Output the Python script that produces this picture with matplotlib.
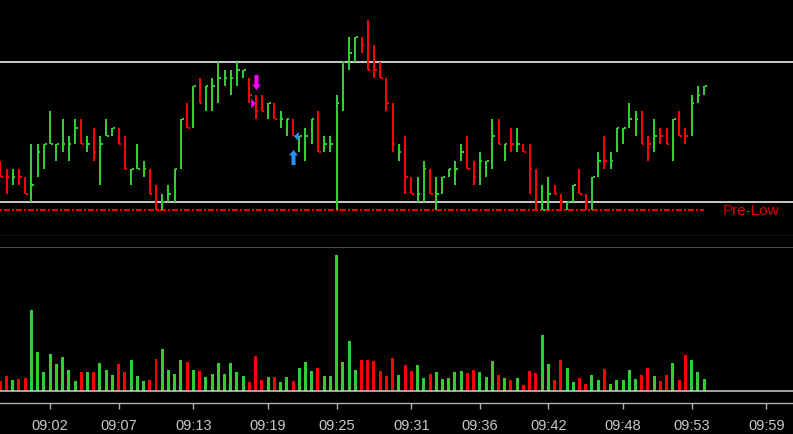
import matplotlib
matplotlib.use('Agg')
import matplotlib.pyplot as plt
from matplotlib.path import Path

# prices are in ticks above the previous day's low (Pre-Low = 0)
highs = [6, 5, 5, 5, 4, 8, 8, 8, 12, 8, 11, 9, 11, 11, 9, 10, 9, 11, 10, 10,
         9, 5, 8, 6, 5, 3, 2, 3, 5, 11, 13, 15, 16, 15, 16, 18, 17, 17, 18, 17,
         16, 14, 14, 13, 13, 12, 11, 11, 9, 10, 11, 12, 9, 9, 14, 18, 21, 21, 21, 23,
         20, 18, 16, 13, 8, 9, 4, 4, 6, 5, 4, 4, 5, 6, 8, 9, 6, 7, 6, 11,
         11, 8, 10, 10, 8, 8, 5, 3, 4, 3, 2, 1, 3, 5, 2, 4, 7, 9, 7, 10,
         10, 13, 12, 12, 9, 11, 10, 10, 11, 12, 10, 14, 15, 15]
lows = [4, 2, 3, 3, 2, 1, 4, 5, 8, 6, 7, 6, 8, 8, 7, 6, 3, 9, 9, 8,
        5, 3, 5, 4, 2, 0, 0, 1, 1, 5, 10, 10, 13, 12, 12, 13, 15, 14, 15, 16,
        13, 11, 12, 11, 11, 10, 9, 9, 7, 6, 8, 7, 7, 7, 0, 12, 17, 18, 19, 17,
        16, 16, 12, 7, 6, 2, 2, 1, 1, 2, 0, 2, 4, 3, 6, 5, 3, 3, 4, 5,
        8, 6, 7, 7, 7, 2, 0, 0, 0, 2, 0, 0, 1, 2, 0, 0, 4, 5, 5, 7,
        8, 10, 9, 8, 6, 7, 8, 8, 6, 9, 8, 9, 13, 14]
closes = [4, 4, 4, 4, 2, 3, 7, 8, 8, 8, 8, 8, 10, 8, 8, 7, 8, 9, 10, 8,
          5, 5, 5, 5, 2, 0, 1, 2, 5, 11, 10, 15, 13, 15, 15, 16, 16, 16, 17, 17,
          14, 12, 12, 13, 11, 11, 11, 9, 9, 9, 11, 7, 8, 8, 13, 18, 19, 21, 20, 17,
          17, 16, 13, 8, 7, 4, 2, 2, 5, 2, 2, 4, 5, 5, 7, 5, 4, 6, 6, 9,
          8, 8, 8, 8, 7, 5, 0, 0, 2, 2, 1, 1, 3, 2, 1, 4, 6, 6, 6, 10,
          10, 11, 11, 8, 8, 9, 9, 8, 11, 9, 9, 13, 14, 15]
# 1 = up bar (green), 0 = down bar (red)
up = [0, 0, 1, 0, 0, 1, 1, 1, 1, 1, 1, 1, 1, 0, 1, 0, 1, 1, 1, 0,
      0, 1, 1, 1, 0, 0, 1, 1, 1, 1, 0, 1, 0, 1, 1, 1, 1, 1, 1, 1,
      0, 0, 0, 1, 0, 1, 1, 0, 1, 1, 1, 0, 1, 1, 1, 1, 1, 1, 0, 0,
      0, 0, 0, 0, 1, 0, 0, 1, 1, 0, 1, 1, 1, 1, 1, 0, 0, 1, 1, 1,
      0, 1, 0, 1, 0, 0, 0, 1, 1, 0, 0, 1, 1, 0, 0, 1, 1, 0, 1, 1,
      1, 1, 1, 0, 0, 1, 0, 0, 1, 0, 0, 1, 1, 1]
volumes = [31, 44, 34, 37, 40, 244, 118, 58, 112, 82, 103, 64, 31, 58, 58, 58, 85, 64, 49, 82,
           58, 94, 46, 31, 34, 97, 127, 64, 52, 94, 88, 64, 61, 43, 52, 85, 52, 85, 58, 46,
           28, 106, 34, 43, 43, 28, 43, 31, 70, 88, 61, 70, 46, 46, 407, 88, 151, 64, 94, 94,
           91, 61, 46, 100, 49, 79, 61, 79, 40, 52, 58, 37, 40, 58, 61, 55, 64, 58, 43, 91,
           49, 40, 34, 40, 19, 61, 55, 169, 82, 34, 94, 70, 28, 40, 22, 49, 34, 67, 22, 34,
           34, 64, 37, 49, 70, 46, 31, 49, 85, 34, 109, 94, 58, 37]

tick_bars = [8, 19, 31, 43, 54, 66, 77, 88, 100, 111, 123]
tick_labels = ['09:02', '09:07', '09:13', '09:19', '09:25', '09:31',
               '09:36', '09:42', '09:48', '09:53', '09:59']

range_high = 18
range_low = 1
pre_low = 0

# signal markers: (bar, price)
sell_arrow = (41, 15.5)
sell_flag = (40.6, 13)
buy_arrow = (47, 6.4)
buy_flag = (47.5, 9)

GREEN = '#33cc33'
RED = '#ff0000'
n = len(highs)
x = list(range(n))
colors = [GREEN if u else RED for u in up]

plt.rcParams['font.family'] = ['Liberation Sans', 'DejaVu Sans']
plt.rcParams['lines.scale_dashes'] = False

fig = plt.figure(figsize=(7.93, 4.35), dpi=100, facecolor='black')
ax = fig.add_axes([0, 1 - 248 / 435, 1, 248 / 435])
axv = fig.add_axes([0, 1 - 404 / 435, 1, 156 / 435], sharex=ax)
for a in (ax, axv):
    a.set_facecolor('black')
    for s in a.spines.values():
        s.set_visible(False)

# price panel
ax.axhline(range_high, color='white', lw=1.1)
ax.axhline(range_low, color='white', lw=1.1)
ax.axhline(-3, color='#071616', lw=0.8)
ax.hlines(pre_low, 0, n - 1, color='#ee0000', lw=1.44, snap=True,
          linestyle=(0, (1.44, 1.44, 4.32, 1.44)))
ax.text(n + 2.0, pre_low, 'Pre-Low', color='#dd0000', fontsize=11,
        va='center', ha='left')

ax.vlines(x, lows, highs, colors=colors, lw=1.44, capstyle='butt', snap=True)
ax.hlines(closes, [i + 0.1 for i in x], [i + 0.42 for i in x],
          colors=colors, lw=1.44, capstyle='butt', snap=True)


def arrow(down):
    s = -1 if down else 1
    v = [(-2, -7.5 * s), (2, -7.5 * s), (2, 2 * s), (4.5, 2 * s),
         (0, 7.5 * s), (-4.5, 2 * s), (-2, 2 * s), (-2, -7.5 * s)]
    return Path(v, closed=True)


def flag(right):
    s = 1 if right else -1
    v = [(-2.3 * s, 4.7), (2.3 * s, 0), (-2.3 * s, -4.7), (-2.3 * s, 4.7)]
    return Path(v, closed=True)


ax.plot(*sell_arrow, marker=arrow(True), ms=15 * 0.72, color='#ff00ff', mew=0)
ax.plot(*sell_flag, marker=flag(True), ms=9.4 * 0.72, color='#ff00ff', mew=0)
ax.plot(*buy_arrow, marker=arrow(False), ms=15 * 0.72, color='#2f8fff', mew=0)
ax.plot(*buy_flag, marker=flag(False), ms=9.4 * 0.72, color='#2f8fff', mew=0)

ax.set_xlim(-0.05, 793 / 6.23)
ax.set_ylim((211 - 248) / 8.25, 211 / 8.25)
ax.set_yticks([])
ax.tick_params(axis='x', bottom=False, labelbottom=False)

# volume panel
axv.bar(x, volumes, width=0.48, color=colors, snap=True)
axv.axhline(0, color='#cfcfcf', lw=1.1)
axv.spines['top'].set_visible(True)
axv.spines['top'].set_color('#4a4a4a')
axv.spines['top'].set_linewidth(0.8)
axv.spines['bottom'].set_visible(True)
axv.spines['bottom'].set_color('#b0b0b0')
axv.spines['bottom'].set_linewidth(1.0)
axv.set_ylim(-36, 432)
axv.set_yticks([])
axv.set_xticks(tick_bars)
axv.set_xticklabels(tick_labels)
axv.tick_params(axis='x', colors='#b0b0b0', labelcolor='#c8c8c8',
                length=4, width=1, pad=6.5, labelsize=10.5)

fig.savefig('out.png', dpi=100, facecolor='black')
